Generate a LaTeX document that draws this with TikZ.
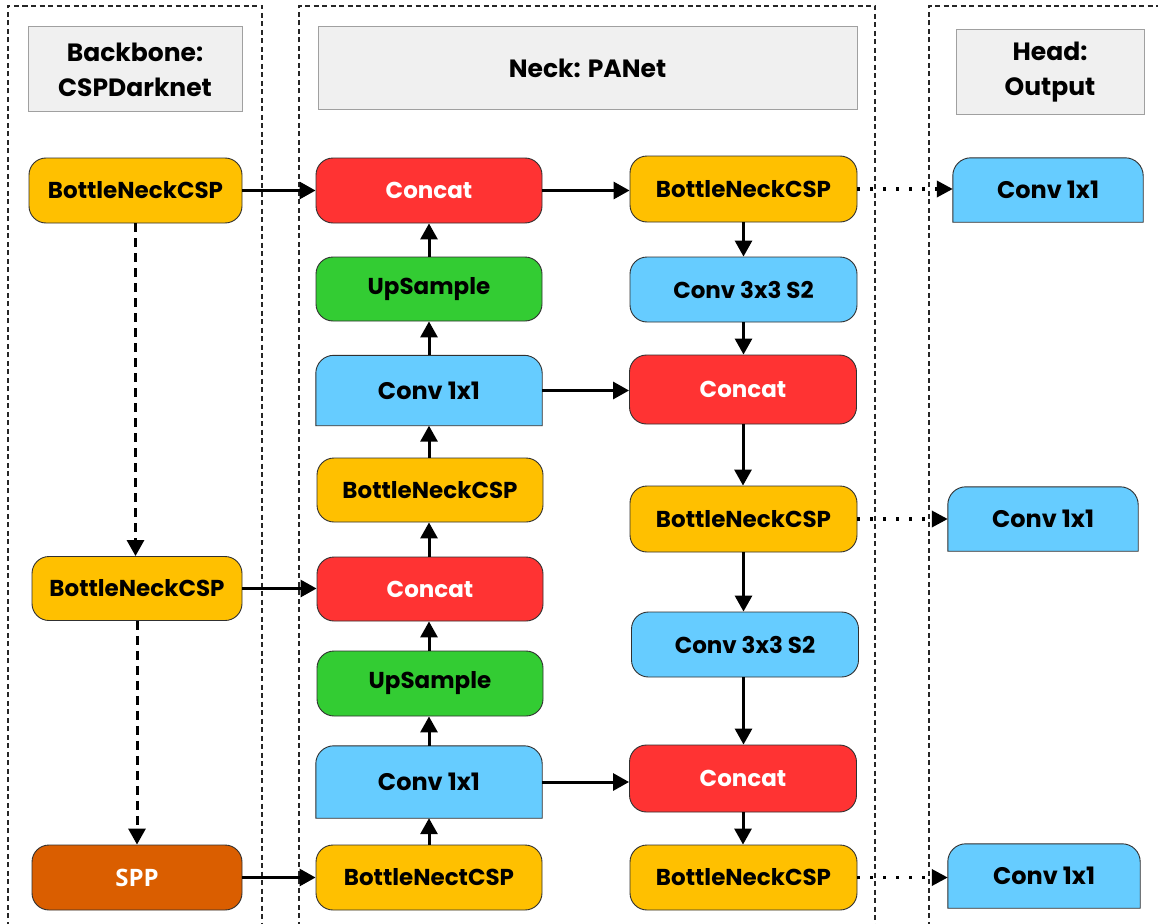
\documentclass[tikz,border=0pt]{standalone}
\usepackage{fontspec}
\setmainfont{Poppins}[UprightFont=* SemiBold, BoldFont=* Bold]
\newfontfamily\sppfont{Open Sans}
\usetikzlibrary{arrows.meta,backgrounds}
\definecolor{cspY}{HTML}{FFC000}
\definecolor{catR}{HTML}{FF3333}
\definecolor{upG}{HTML}{33CC33}
\definecolor{convB}{HTML}{66CCFF}
\definecolor{sppO}{HTML}{DA5E00}
\definecolor{hdrF}{HTML}{F0F0F0}
\definecolor{hdrD}{HTML}{A0A0A0}
\definecolor{edgeD}{HTML}{303030}
\tikzset{
  blk/.style={draw=edgeD, line width=0.9pt, rounded corners=17pt, inner sep=0pt,
    minimum height=65pt, font=\bfseries\fontsize{23}{26}\selectfont},
  bnbox/.style={blk, fill=cspY},
  catbox/.style={blk, fill=catR, text=white},
  upbox/.style={blk, fill=upG},
  c3box/.style={blk, fill=convB},
  sppbox/.style={blk, fill=sppO, text=white, font=\sppfont\bfseries\fontsize{24}{26}\selectfont},
  c1box/.style={inner sep=0pt, minimum height=68pt, font=\bfseries\fontsize{24}{26}\selectfont},
  c1shape/.style={draw=edgeD, line width=0.9pt, fill=convB},
  hdr/.style={draw=hdrD, line width=1pt, fill=hdrF, inner sep=0pt, align=center,
    font=\bfseries\fontsize{25}{35}\selectfont},
  col/.style={draw=black!85, line width=1.1pt, dash pattern=on 5pt off 3.5pt},
  flow/.style={line width=3pt, -{Triangle[length=16pt,width=17pt]}},
  dflow/.style={flow, dash pattern=on 9pt off 6pt},
  oflow/.style={line width=3.5pt, dash pattern=on 3pt off 10pt, -{Triangle[length=16pt,width=16pt]}},
}
\begin{document}
\begin{tikzpicture}[x=1pt,y=-1pt]
\useasboundingbox (0,0) rectangle (1158,923);
\clip (0,0) rectangle (1158,923);
% columns
\draw[col] (8,935) -- (8,6) -- (262,6) -- (262,935);
\draw[col] (299,935) -- (299,6) -- (875,6) -- (875,935);
\draw[col] (929,935) -- (929,6) -- (1170,6);
% headers
\node[hdr, minimum width=214pt, minimum height=85pt] (hb) at (135,69.5) {Backbone:\\CSPDarknet};
\node[hdr, minimum width=539pt, minimum height=83pt] (hn) at (587.5,68.5) {Neck: PANet};
\node[hdr, minimum width=188pt, minimum height=85pt] (hh) at (1050,72) {Head:\\Output};
% backbone
\node[bnbox, minimum width=213pt] (b1) at (135.5,190.5) {BottleNeckCSP};
\node[bnbox, minimum width=210pt, minimum height=64pt] (b2) at (137,588.5) {BottleNeckCSP};
\node[sppbox, minimum width=210pt] (spp) at (137,877.5) {SPP};
% neck column 1
\node[catbox, minimum width=226pt] (c1) at (429,190.5) {Concat};
\node[upbox, minimum width=226pt, minimum height=64pt] (u1) at (429,289) {UpSample};
\node[c1box, minimum width=226pt, minimum height=70pt] (cv1) at (429,390.5) {Conv 1x1};
\node[bnbox, minimum width=226pt, minimum height=64pt] (bn1) at (430,490) {BottleNeckCSP};
\node[catbox, minimum width=226pt, minimum height=64pt] (c2) at (430,589) {Concat};
\node[upbox, minimum width=226pt] (u2) at (430,683.5) {UpSample};
\node[c1box, minimum width=226pt, minimum height=72pt] (cv2) at (429,782) {Conv 1x1};
\node[bnbox, minimum width=226pt] (bn0) at (429,877.5) {BottleNectCSP};
% neck column 2
\node[bnbox, minimum width=227pt, minimum height=66pt] (r1) at (743.5,189) {BottleNeckCSP};
\node[c3box, minimum width=227pt] (r2) at (743.5,289.5) {Conv 3x3 S2};
\node[catbox, minimum width=227pt, minimum height=69pt] (r3) at (743,389.5) {Concat};
\node[bnbox, minimum width=227pt, minimum height=66pt] (r4) at (743.5,519) {BottleNeckCSP};
\node[c3box, minimum width=227pt] (r5) at (745,644.5) {Conv 3x3 S2};
\node[catbox, minimum width=227pt, minimum height=67pt] (r6) at (743,778.5) {Concat};
\node[bnbox, minimum width=227pt] (r7) at (743.5,877.5) {BottleNeckCSP};
% head
\node[c1box, minimum width=190pt, minimum height=64pt] (h1) at (1048,190) {Conv 1x1};
\node[c1box, minimum width=190pt, minimum height=64pt] (h2) at (1043,519) {Conv 1x1};
\node[c1box, minimum width=192pt, minimum height=64pt] (h3) at (1044,876) {Conv 1x1};
\begin{scope}[on background layer]
\fill[white] (0,0) rectangle (1158,923);
\foreach \n in {cv1,cv2,h1,h2,h3}
  \draw[c1shape] (\n.south west) [rounded corners=18pt] -- (\n.north west) -- (\n.north east) [sharp corners] -- (\n.south east) -- cycle;
\end{scope}
% backbone links
\draw[dflow] (b1.south) -- (b1.south |- b2.north);
\draw[dflow] (b2.south) -- (spp.north);
\draw[flow] (b1.east) -- (c1.west);
\draw[flow] (b2.east) -- (b2.east -| c2.west);
\draw[flow] (spp.east) -- (spp.east -| bn0.west);
% neck upward path
\draw[flow] (bn0.north) -- (bn0.north |- cv2.south);
\draw[flow] (cv2.north) -- (cv2.north |- u2.south);
\draw[flow] (cv2.north |- u2.north) -- (cv2.north |- c2.south);
\draw[flow] (cv2.north |- c2.north) -- (cv2.north |- bn1.south);
\draw[flow] (cv2.north |- bn1.north) -- (cv1.south);
\draw[flow] (cv1.north) -- (u1.south);
\draw[flow] (u1.north) -- (c1.south);
% neck downward path
\draw[flow] (c1.east) -- (c1.east -| r1.west);
\draw[flow] (r1.south) -- (r1.south |- r2.north);
\draw[flow] (r2.south) -- (r2.south |- r3.north);
\draw[flow] (cv1.east) -- (cv1.east -| r3.west);
\draw[flow] (r3.south) -- (r3.south |- r4.north);
\draw[flow] (r4.south) -- (r4.south |- r5.north);
\draw[flow] (r4.south |- r5.south) -- (r4.south |- r6.north);
\draw[flow] (cv2.east) -- (cv2.east -| r6.west);
\draw[flow] (r6.south) -- (r6.south |- r7.north);
% outputs
\draw[oflow] (r1.east) -- (r1.east -| h1.west);
\draw[oflow] (r4.east) -- (r4.east -| h2.west);
\draw[oflow] (r7.east) -- (r7.east -| h3.west);
\end{tikzpicture}
\end{document}
